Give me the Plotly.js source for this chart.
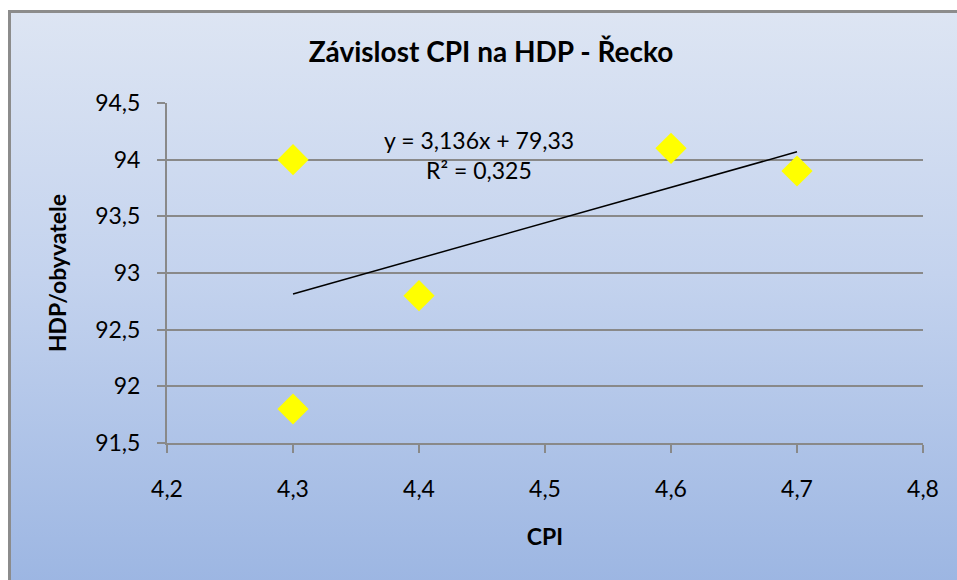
<!DOCTYPE html>
<html>
<head>
<meta charset="utf-8">
<script src="https://cdn.plot.ly/plotly-3.0.1.min.js"></script>
<style>
  html, body { margin: 0; padding: 0; background: #ffffff; }
  #bg { position: absolute; left: 8px; top: 10px; width: 960px; height: 580px;
        border-left: 3px solid #8c8c8c; border-top: 3px solid #8c8c8c;
        background: linear-gradient(to bottom, #dde5f3 0%, #c4d3ee 45%, #9bb5e2 100%); }
  #chart { position: absolute; left: 0; top: 0; width: 957px; height: 580px; }
</style>
</head>
<body>
<div id="bg"></div>
<div id="chart"></div>
<script>
const cpi = [4.3, 4.3, 4.4, 4.6, 4.7];
const hdp = [94.0, 91.8, 92.8, 94.1, 93.9];
const xTicks = [4.2, 4.3, 4.4, 4.5, 4.6, 4.7, 4.8];
const yTicks = [91.5, 92, 92.5, 93, 93.5, 94, 94.5];
// trendline coefficients and R² as printed on the chart
const trendCoef = [3.136, 79.33];
const rSquared = [0.325];

const xMin = Math.min(...cpi), xMax = Math.max(...cpi);
const fmt = (v, d) => v.toFixed(d).replace('.', ',');
const font = 'Lato, "Open Sans", sans-serif';

const data = [
  {
    x: [xMin, xMax],
    y: [trendCoef[0] * xMin + trendCoef[1], trendCoef[0] * xMax + trendCoef[1]],
    mode: 'lines', type: 'scatter',
    line: { color: '#000000', width: 1.5 },
    hoverinfo: 'skip', showlegend: false
  },
  {
    x: cpi, y: hdp, mode: 'markers', type: 'scatter',
    marker: { symbol: 'diamond', size: 24, color: '#ffff00', line: { width: 0 } },
    showlegend: false
  }
];

const layout = {
  width: 957, height: 580,
  paper_bgcolor: 'rgba(0,0,0,0)', plot_bgcolor: 'rgba(0,0,0,0)',
  separators: ', ',
  margin: { l: 167, r: 34, t: 103, b: 137 },
  font: { family: font, color: '#000000', size: 23 },
  title: {
    text: '<b>Závislost CPI na HDP - Řecko</b>',
    font: { family: font, size: 28, color: '#000000' },
    xref: 'container', yref: 'container', x: 0.513, y: 0.91,
    xanchor: 'center', yanchor: 'middle'
  },
  xaxis: {
    range: [4.2, 4.8], tickvals: xTicks, ticktext: xTicks.map(v => fmt(v, 1)),
    showgrid: false, zeroline: false,
    showline: true, linecolor: '#898989', linewidth: 2,
    ticks: 'outside', ticklen: 8, tickcolor: '#898989', tickwidth: 2,
    ticklabelstandoff: 16,
    tickfont: { family: font, size: 23, color: '#000000' },
    title: { text: '<b>CPI</b>', font: { family: font, size: 23, color: '#000000' }, standoff: 28 },
    automargin: false, fixedrange: true
  },
  yaxis: {
    range: [91.5, 94.5], tickvals: yTicks, ticktext: yTicks.map(v => (v % 1 === 0 ? String(v) : fmt(v, 1))),
    showgrid: true, gridcolor: '#898989', gridwidth: 2, zeroline: false,
    showline: true, linecolor: '#898989', linewidth: 2,
    ticks: 'outside', ticklen: 8, tickcolor: '#898989', tickwidth: 2,
    ticklabelstandoff: 12,
    tickfont: { family: font, size: 23, color: '#000000' },
    title: { text: '<b>HDP/obyvatele</b>', font: { family: font, size: 23, color: '#000000' }, standoff: 22 },
    automargin: false, fixedrange: true
  },
  annotations: [
    {
      x: 4.448, y: 94.17, xref: 'x', yref: 'y', showarrow: false,
      text: 'y = ' + fmt(trendCoef[0], 3) + 'x + ' + fmt(trendCoef[1], 2),
      font: { family: font, size: 23, color: '#000000' }, xanchor: 'center', yanchor: 'middle'
    },
    {
      x: 4.448, y: 93.91, xref: 'x', yref: 'y', showarrow: false,
      text: 'R² = ' + fmt(rSquared[0], 3),
      font: { family: font, size: 23, color: '#000000' }, xanchor: 'center', yanchor: 'middle'
    }
  ]
};

Plotly.newPlot('chart', data, layout, { displayModeBar: false, staticPlot: true });
</script>
</body>
</html>
